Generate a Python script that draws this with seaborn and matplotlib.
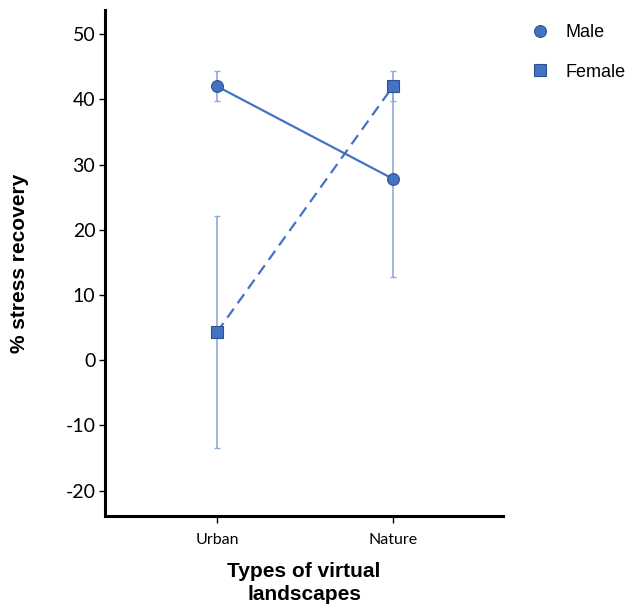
import numpy as np
import pandas as pd
import matplotlib
import seaborn as sns

matplotlib.use("Agg")
from matplotlib import pyplot as plt
from matplotlib.lines import Line2D

landscapes = ["Urban", "Nature"]
groups = ["Male", "Female"]
male_means = [42.0, 27.8]
female_means = [4.3, 42.0]
male_err = [2.3, 15.0]
female_err = [17.8, 2.3]
y_ticks = [-20, -10, 0, 10, 20, 30, 40, 50]

BLUE = "#4472C4"
EDGE = "#2F528F"
ERR = "#8EA9DB"

df = pd.DataFrame(
    {
        "landscape": landscapes * 2,
        "sex": ["Male"] * 2 + ["Female"] * 2,
        "recovery": male_means + female_means,
        "err": male_err + female_err,
    }
)

sns.set_theme(style="white")
plt.rcParams["font.family"] = ["Liberation Sans", "DejaVu Sans"]
plt.rcParams["text.color"] = "black"
plt.rcParams["axes.labelcolor"] = "black"
plt.rcParams["xtick.color"] = "black"
plt.rcParams["ytick.color"] = "black"

fig = plt.figure(figsize=(6.3, 6.08), dpi=100)
ax = fig.add_axes([0.1667, 0.1513, 0.6317, 0.8323])

# error bars first, underneath the markers
for sex in groups:
    sub = df[df["sex"] == sex]
    xpos = [landscapes.index(v) for v in sub["landscape"]]
    ax.errorbar(
        xpos, sub["recovery"], yerr=sub["err"], fmt="none",
        ecolor=ERR, elinewidth=1.2, capsize=2.5, capthick=1.0, zorder=1,
    )

sns.pointplot(
    data=df, x="landscape", y="recovery", hue="sex", order=landscapes,
    hue_order=groups, palette=[BLUE, BLUE], markers=["o", "s"],
    linestyles=["-", "--"], errorbar=None, markersize=8.5, linewidth=1.6,
    markeredgecolor=EDGE, markeredgewidth=0.8, ax=ax, legend=False,
)
for line in ax.lines:
    if line.get_linestyle() == "--":
        line.set_dashes((5, 3))
    line.set_zorder(3)

ax.set_xlim(-0.636, 1.625)
ax.set_ylim(-23.9, 53.7)
ax.set_yticks(y_ticks)
ax.set_yticklabels([str(t) for t in y_ticks], fontfamily="Lato", fontsize=14)
ax.set_xticks([0, 1])
ax.set_xticklabels(landscapes, fontfamily="Lato", fontsize=11.5)
ax.tick_params(axis="y", left=True, direction="out", length=4, width=1, pad=3)
ax.tick_params(axis="x", bottom=True, direction="out", length=5, width=1, pad=7)

for side in ["top", "right"]:
    ax.spines[side].set_visible(False)
for side in ["left", "bottom"]:
    ax.spines[side].set_color("black")
    ax.spines[side].set_linewidth(2.2)

ax.set_ylabel("% stress recovery", fontsize=15, fontweight="bold", labelpad=26)
ax.set_xlabel("Types of virtual\nlandscapes", fontsize=15, fontweight="bold",
              labelpad=11, linespacing=1.3)
ax.grid(False)

handles = [
    Line2D([], [], linestyle="none", marker="o", markersize=8.5, color=BLUE,
           markeredgecolor=EDGE, markeredgewidth=0.8),
    Line2D([], [], linestyle="none", marker="s", markersize=8, color=BLUE,
           markeredgecolor=EDGE, markeredgewidth=0.8),
]
fig.legend(
    handles, groups, loc="upper left", bbox_to_anchor=(0.823, 0.981),
    frameon=False, fontsize=13, labelspacing=1.25, handletextpad=0.9,
    handlelength=1.0, borderaxespad=0.3,
)

plt.savefig("out.png", dpi=100)
plt.close()
